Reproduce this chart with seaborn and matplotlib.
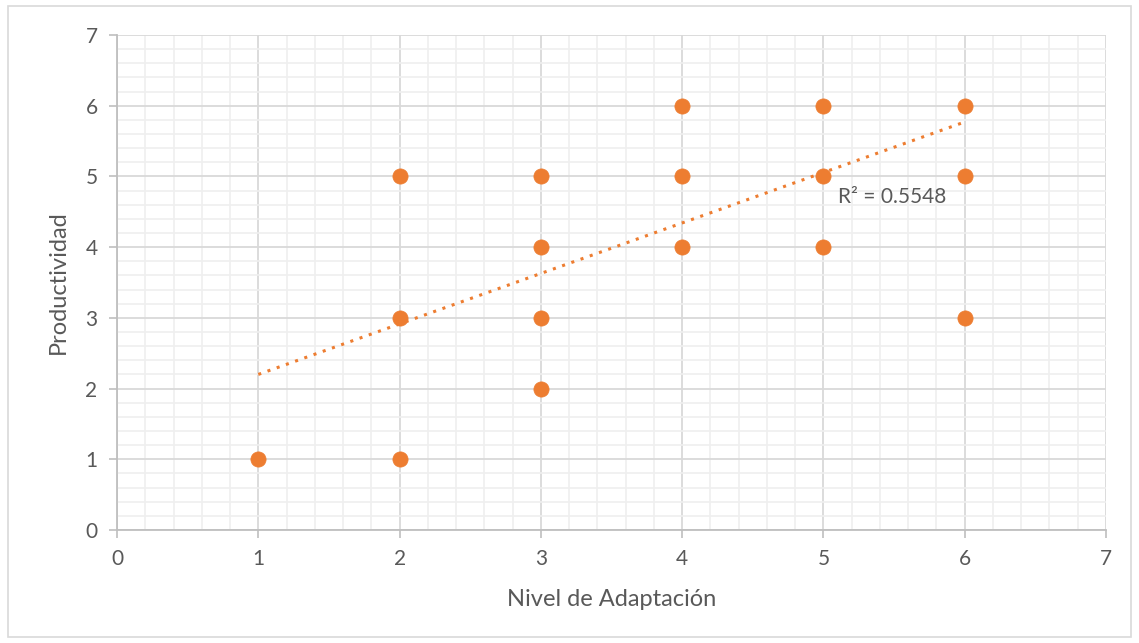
import matplotlib
matplotlib.use("Agg")
import matplotlib.pyplot as plt
import seaborn as sns
import numpy as np
import pandas as pd
from matplotlib.ticker import MultipleLocator
from matplotlib.patches import Rectangle

adaptacion = [1, 2, 2, 2, 3, 3, 3, 3, 4, 4, 4, 5, 5, 5, 6, 6, 6]
productividad = [1, 1, 3, 5, 2, 3, 4, 5, 4, 5, 6, 4, 5, 6, 3, 5, 6]
trend_x = [1, 6]
trend_y = [2.2, 5.77]
r2_label = "R² = 0.5548"

sns.set_style("white")
plt.rcParams['font.family'] = ['Lato', 'DejaVu Sans']

df = pd.DataFrame({"x": adaptacion, "y": productividad})
orange = "#ED7D31"

fig = plt.figure(figsize=(11.39, 6.43), dpi=100)
ax = fig.add_axes([117/1139, 1-530/643, (1106-117)/1139, (530-35)/643])

ax.set_xlim(0, 7)
ax.set_ylim(0, 7)
ax.xaxis.set_major_locator(MultipleLocator(1))
ax.yaxis.set_major_locator(MultipleLocator(1))
ax.xaxis.set_minor_locator(MultipleLocator(0.2))
ax.yaxis.set_minor_locator(MultipleLocator(0.2))
ax.grid(which='minor', color='#EFEFEF', linewidth=1.2, zorder=0)
ax.grid(which='major', color='#D9D9D9', linewidth=1.3, zorder=0)
ax.set_axisbelow(True)

sns.lineplot(x=trend_x, y=trend_y, ax=ax, color=orange, linestyle=(0, (1, 2.2)),
             linewidth=2.2, zorder=2)
sns.scatterplot(data=df, x="x", y="y", ax=ax, color=orange, s=120,
                edgecolor=orange, linewidth=0.5, zorder=3)

ax.text(5.1, 4.71, r2_label, fontsize=15, color='#595959', ha='left', va='center')

for s in ['top', 'right']:
    ax.spines[s].set_visible(False)
for s in ['left', 'bottom']:
    ax.spines[s].set_color('#BFBFBF')
    ax.spines[s].set_linewidth(1.3)

ax.tick_params(which='major', direction='out', length=6, width=1.2, color='#BFBFBF',
               labelsize=15, labelcolor='#595959', pad=8,
               bottom=True, left=True)
ax.tick_params(which='minor', length=0)

ax.set_xlabel("Nivel de Adaptación", fontsize=17, color='#595959', labelpad=14)
ax.set_ylabel("Productividad", fontsize=17, color='#595959', labelpad=12)

fig.patches.append(Rectangle((8/1139, 6/643), 1-16/1139, 1-12/643, transform=fig.transFigure,
                             fill=False, edgecolor='#D9D9D9', linewidth=1.2))

fig.savefig("out.png", dpi=100)
